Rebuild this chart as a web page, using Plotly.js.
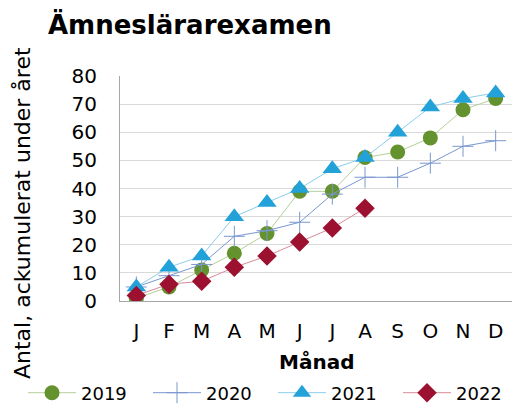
<!DOCTYPE html>
<html><head><meta charset="utf-8">
<script src="https://cdn.plot.ly/plotly-3.0.1.min.js"></script>
<style>html,body{margin:0;padding:0;background:#fff}#c{width:513px;height:408px}</style>
</head><body><div id="c"></div>
<script>
const months = ["J","F","M","A","M","J","J","A","S","O","N","D"];
const years = ["2019","2020","2021","2022"];
const v2019 = [1,5,11,17,24,39,39,51,53,58,68,72];
const v2020 = [5,9,13,23,25,28,38,44,44,49,55,57];
const v2021 = [5,12,16,30,35,40,47,51,60,69,72,74];
const v2022 = [2,6,7,12,16,21,26,33];
const idx = months.map((m,i)=>i);
const F = "DejaVu Sans, Verdana, sans-serif";
const traces = [
 {name:"2019", y:v2019, line:{color:"#b5cf9a",width:1}, marker:{symbol:"circle",size:15,color:"#64922f"}},
 {name:"2020", y:v2020, line:{color:"#7a97cf",width:1}, marker:{symbol:"cross-thin",size:15,color:"#7a97cf",line:{color:"#7a97cf",width:1}}},
 {name:"2021", y:v2021, line:{color:"#8ccdec",width:1}, marker:{symbol:"triangle-up",size:17,color:"#22a2d9"}},
 {name:"2022", y:v2022, line:{color:"#d98a9a",width:1}, marker:{symbol:"diamond",size:15,color:"#9c1030"}}
].map(t=>Object.assign({type:"scatter",mode:"lines+markers",x:idx.slice(0,t.y.length)},t));
const layout = {
 width:513, height:408, paper_bgcolor:"#fff", plot_bgcolor:"#fff",
 margin:{l:120,r:1,t:76,b:107,autoexpand:false},
 font:{family:F,color:"#000",size:18},
 title:{text:"<b>Ämneslärarexamen</b>",font:{family:F,size:26,color:"#000"},x:48/513,xanchor:"left",xref:"container",y:1-25/408,yanchor:"middle",yref:"container",automargin:false},
 xaxis:{range:[-0.5,11.5],tickvals:idx,ticktext:months,showgrid:false,zeroline:false,showline:true,linecolor:"#a6a6a6",linewidth:1,ticks:"",
   tickfont:{size:20,family:F},ticklabelstandoff:12,automargin:false},
 yaxis:{range:[0,80],dtick:10,showgrid:true,gridcolor:"#d9d9d9",gridwidth:1,zeroline:false,showline:true,linecolor:"#a6a6a6",linewidth:1,ticks:"",
   tickfont:{size:20,family:F},ticklabelstandoff:18,automargin:false},
 annotations:[
  {text:"<b>Månad</b>",xref:"paper",yref:"paper",x:0.5,xanchor:"center",y:-61/225,yanchor:"middle",showarrow:false,font:{size:20,family:F,color:"#000"}},
  {text:"Antal, ackumulerat under året",textangle:-90,xref:"paper",yref:"paper",x:(23-120)/392,xanchor:"center",y:(301-213)/225,yanchor:"middle",showarrow:false,font:{size:22,family:F,color:"#000"}}
 ],
 showlegend:true,
 legend:{orientation:"h",xref:"paper",yref:"paper",x:(23-120)/392,xanchor:"left",y:-(393-301)/225,yanchor:"middle",font:{size:18,family:F},itemwidth:48,entrywidth:62,entrywidthmode:"pixels",tracegroupgap:0}
};
Plotly.newPlot("c",traces,layout,{displayModeBar:false,staticPlot:true});
</script></body></html>
